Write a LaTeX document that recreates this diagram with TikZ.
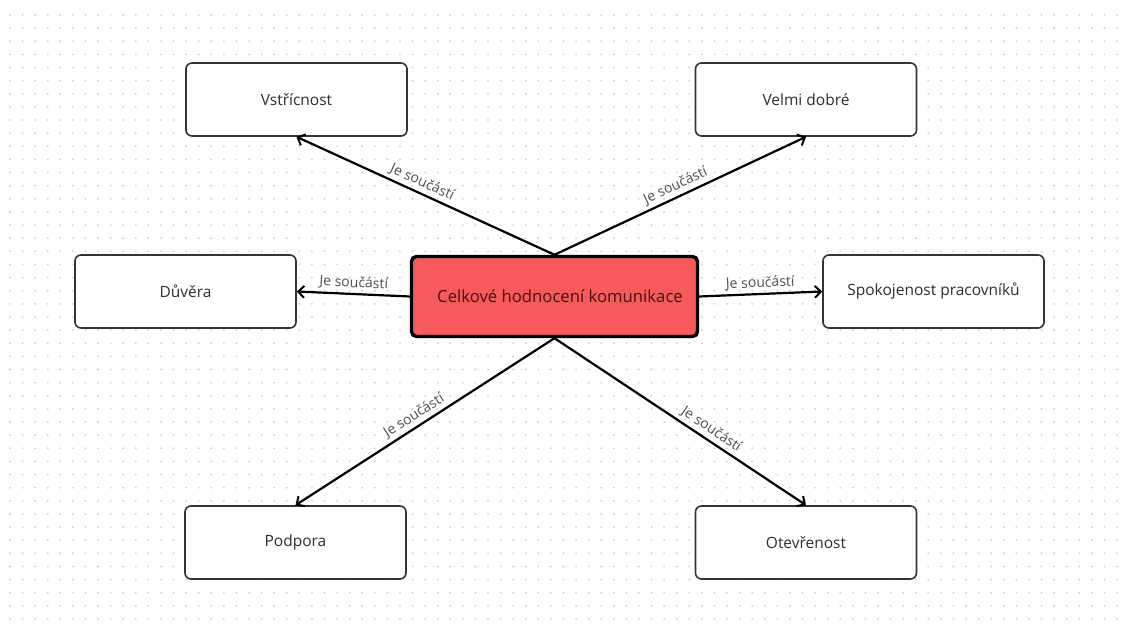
\documentclass[tikz,border=0pt]{standalone}
\usepackage{fontspec}
\setmainfont{Open Sans}
\usetikzlibrary{arrows.meta}

\definecolor{dotgray}{HTML}{D4D4D4}
\definecolor{boxline}{HTML}{333333}
\definecolor{boxtext}{HTML}{2E2E2E}
\definecolor{lbltext}{HTML}{4F4F4F}
\definecolor{hubfill}{HTML}{F65A5A}
\definecolor{hubtext}{HTML}{4A1010}

\tikzset{
  box/.style={draw=boxline, line width=1.6pt, rounded corners=6pt, fill=white,
    minimum width=221pt, minimum height=73pt, inner sep=0pt,
    text=boxtext, font=\fontsize{15.5}{18}\selectfont},
  hub/.style={draw=black, line width=3.4pt, rounded corners=5pt, fill=hubfill,
    minimum width=286pt, minimum height=80pt, inner sep=0pt,
    text=hubtext, font=\fontsize{16.7}{19}\selectfont},
  conn/.style={draw=black, line width=2.2pt,
    -{Straight Barb[length=6pt,width=12pt,line width=2pt]}},
  lbl/.style={sloped, above, inner sep=3pt, text=lbltext,
    font=\fontsize{14}{16}\selectfont}
}

\begin{document}
\begin{tikzpicture}[x=1pt,y=-1pt]
  % canvas and dotted grid
  \fill[white] (0,0) rectangle (1128,628);
  \useasboundingbox (0,0) rectangle (1128,628);
  \foreach \i in {0,...,88}{
    \foreach \j in {0,...,46}{
      \fill[dotgray] ({10+\i*12.58},{15+\j*13.13}) circle (1.1pt);
    }
  }

  % central concept
  \node[hub] (hub) at (554.5,296.5) {\hspace*{11pt}Celkové hodnocení komunikace};

  % surrounding concepts
  \node[box] (vst) at (296.5,99.5) {Vstřícnost};
  \node[box] (vel) at (806,99.5)   {Velmi dobré};
  \node[box] (duv) at (185.5,291.5) {Důvěra};
  \node[box] (spo) at (933.5,291.5) {Spokojenost pracovníků};
  \node[box] (pod) at (295.5,542.5) {Podpora};
  \node[box] (ote) at (806,542.5)   {Otevřenost};

  % relations
  \draw[conn] (hub.north) -- (vst.south) node[lbl, pos=0.53] {Je součástí};
  \draw[conn] (hub.north) -- (vel.south) node[lbl, pos=0.5] {Je součástí};
  \draw[conn] (hub.west)  -- (duv.east)  node[lbl, pos=0.5] {Je součástí};
  \draw[conn] (hub.east)  -- (spo.west)  node[lbl, pos=0.5] {Je součástí};
  \draw[conn] (hub.south) -- (pod.north) node[lbl, pos=0.52] {Je součástí};
  \draw[conn] (hub.south) -- (ote.north) node[lbl, pos=0.6] {Je součástí};
\end{tikzpicture}
\end{document}
